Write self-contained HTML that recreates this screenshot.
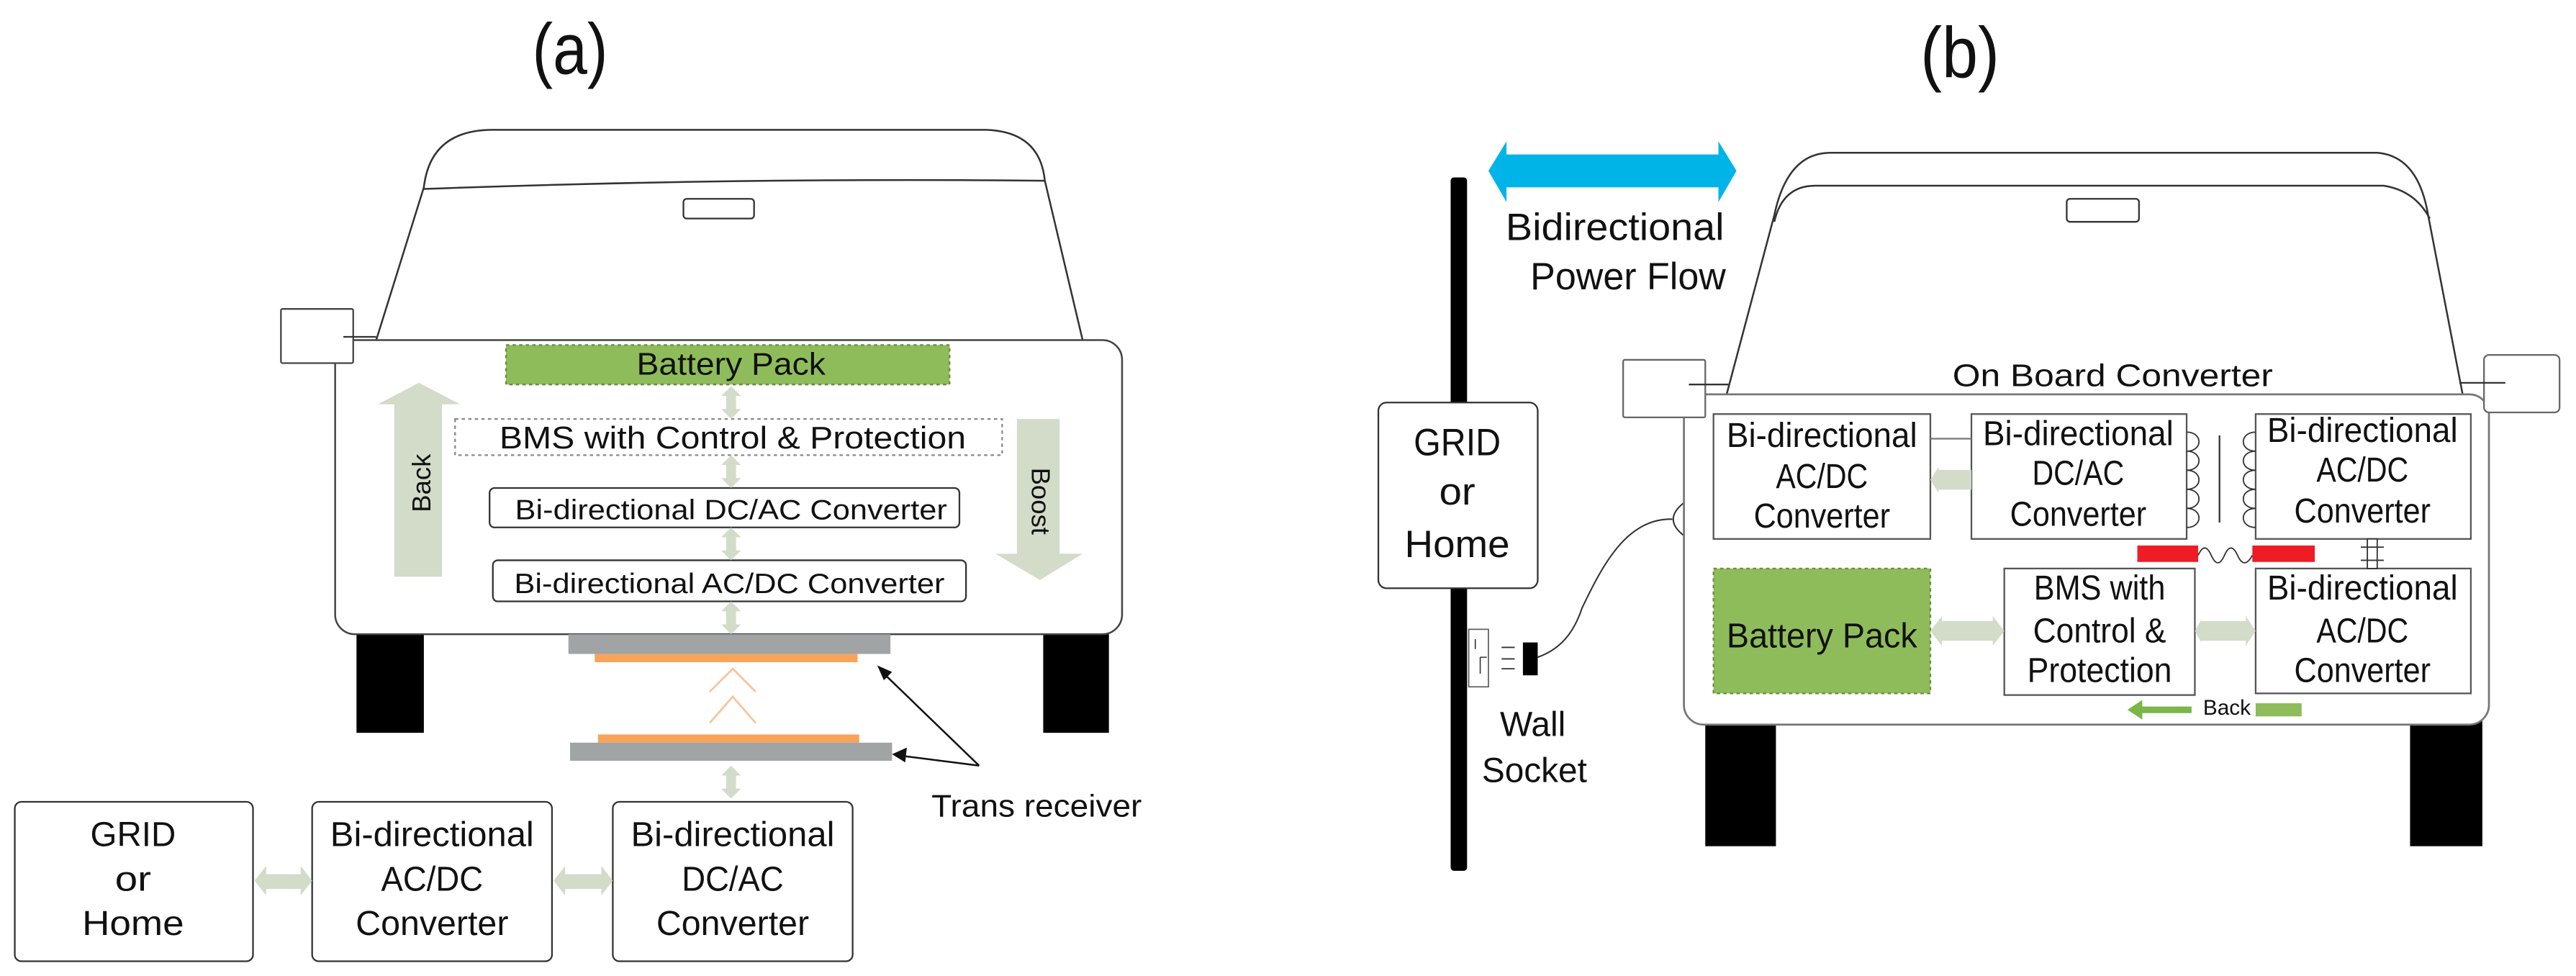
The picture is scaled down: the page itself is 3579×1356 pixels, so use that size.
<!DOCTYPE html>
<html><head><meta charset="utf-8"><style>
html,body{margin:0;padding:0;background:#fff}
svg{display:block}
text{font-family:"Liberation Sans",sans-serif;fill:#111}
</style></head><body>
<svg width="3579" height="1356" viewBox="0 0 1568 594" preserveAspectRatio="none" xmlns="http://www.w3.org/2000/svg">
<defs>
<g id="vda"><polygon points="0,-10 -6,-4 -3,-4 -3,4 -6,4 0,10 6,4 3,4 3,-4 6,-4" fill="#d3dbc9"/></g>
</defs>
<!-- (a) -->
<text x="347" y="45" font-size="44" text-anchor="middle" textLength="46" lengthAdjust="spacingAndGlyphs">(a)</text>
<path d="M229,207 L258,114 Q262,79 300,79 L600,79 Q633,80 636,110 L659,207" fill="none" stroke="#333" stroke-width="1.1"/>
<path d="M258,115 Q450,108 636,110" fill="none" stroke="#333" stroke-width="1.1"/>
<rect x="416" y="121" width="43" height="12" rx="2" fill="#fff" stroke="#333"/>
<rect x="217" y="384" width="41" height="62" fill="#000"/>
<rect x="635" y="384" width="40" height="62" fill="#000"/>
<rect x="204" y="207" width="479" height="179" rx="12" fill="#fff" stroke="#444" stroke-width="1.1"/>
<rect x="171" y="188" width="44" height="33" rx="1" fill="#fff" stroke="#444"/>
<line x1="209" y1="205" x2="229" y2="205" stroke="#333"/>
<rect x="308" y="210" width="270" height="24" fill="#8fbc5a" stroke="#6a8a40" stroke-dasharray="2,2"/>
<text x="445" y="228" font-size="19" text-anchor="middle" textLength="115" lengthAdjust="spacingAndGlyphs">Battery Pack</text>
<rect x="277" y="255" width="333" height="22" fill="#fff" stroke="#888" stroke-dasharray="2,2"/>
<text x="446" y="273" font-size="19" text-anchor="middle" textLength="284" lengthAdjust="spacingAndGlyphs">BMS with Control &amp; Protection</text>
<rect x="298" y="297" width="286" height="24" rx="3" fill="#fff" stroke="#333"/>
<text x="445" y="316" font-size="17" text-anchor="middle" textLength="263" lengthAdjust="spacingAndGlyphs">Bi-directional DC/AC  Converter</text>
<rect x="300" y="341" width="288" height="25" rx="3" fill="#fff" stroke="#333"/>
<text x="444" y="361" font-size="17" text-anchor="middle" textLength="262" lengthAdjust="spacingAndGlyphs">Bi-directional AC/DC  Converter</text>
<use href="#vda" x="445" y="245"/><use href="#vda" x="445" y="287"/><use href="#vda" x="445" y="331"/><use href="#vda" x="445" y="376"/>
<polygon points="255,233 280,246 269,246 269,351 240,351 240,246 230,246" fill="#d3dbc9"/>
<text transform="translate(262,294) rotate(-90)" font-size="16" text-anchor="middle">Back</text>
<polygon points="619,255 645,255 645,337 659,337 633,353 606,337 619,337" fill="#d3dbc9"/>
<text transform="translate(628,305) rotate(90)" font-size="16" text-anchor="middle">Boost</text>
<rect x="346" y="386" width="196" height="12" fill="#a0a4a4"/>
<rect x="362" y="398" width="160" height="5" fill="#f9a35a"/>
<polyline points="432,421 446,407 460,421" fill="none" stroke="#f9c39a" stroke-width="1.2"/>
<polyline points="432,440 446,424 460,440" fill="none" stroke="#f9c39a" stroke-width="1.2"/>
<rect x="364" y="447" width="159" height="5" fill="#f9a35a"/>
<rect x="347" y="452" width="196" height="11" fill="#a0a4a4"/>
<use href="#vda" x="445" y="476"/>
<line x1="596" y1="466" x2="537" y2="409" stroke="#111" stroke-width="1.1"/>
<polygon points="534,405 543,409 538,414" fill="#111"/>
<line x1="596" y1="466" x2="549" y2="460" stroke="#111" stroke-width="1.1"/>
<polygon points="543,459 552,455 551,464" fill="#111"/>
<text x="567" y="497" font-size="19" textLength="128" lengthAdjust="spacingAndGlyphs">Trans receiver</text>
<g font-size="21" text-anchor="middle">
<rect x="9" y="488" width="145" height="97" rx="4" fill="#fff" stroke="#333"/>
<text x="81" y="515" textLength="52" lengthAdjust="spacingAndGlyphs">GRID</text>
<text x="81" y="542" textLength="22" lengthAdjust="spacingAndGlyphs">or</text>
<text x="81" y="569" textLength="62" lengthAdjust="spacingAndGlyphs">Home</text>
<rect x="190" y="488" width="146" height="97" rx="4" fill="#fff" stroke="#333"/>
<text x="263" y="515" textLength="124" lengthAdjust="spacingAndGlyphs">Bi-directional</text>
<text x="263" y="542" textLength="62" lengthAdjust="spacingAndGlyphs">AC/DC</text>
<text x="263" y="569" textLength="93" lengthAdjust="spacingAndGlyphs">Converter</text>
<rect x="373" y="488" width="146" height="97" rx="4" fill="#fff" stroke="#333"/>
<text x="446" y="515" textLength="124" lengthAdjust="spacingAndGlyphs">Bi-directional</text>
<text x="446" y="542" textLength="62" lengthAdjust="spacingAndGlyphs">DC/AC</text>
<text x="446" y="569" textLength="93" lengthAdjust="spacingAndGlyphs">Converter</text>
</g>
<polygon points="155,536 162,527 162,532 183,532 183,527 190,536 183,545 183,541 162,541 162,545" fill="#d3dbc9"/>
<polygon points="337,536 344,527 344,532 366,532 366,527 373,536 366,545 366,541 344,541 344,545" fill="#d3dbc9"/>
<!-- (b) -->
<text x="1193" y="47" font-size="44" text-anchor="middle" textLength="48" lengthAdjust="spacingAndGlyphs">(b)</text>
<rect x="883" y="108" width="10" height="422" rx="2" fill="#000"/>
<polygon points="906,104 917,86 917,94 1046,94 1046,86 1057,104 1046,123 1046,114 917,114 917,123" fill="#00b4e8"/>
<text x="983" y="146" font-size="23" text-anchor="middle" textLength="133" lengthAdjust="spacingAndGlyphs">Bidirectional</text>
<text x="991" y="176" font-size="23" text-anchor="middle" textLength="119" lengthAdjust="spacingAndGlyphs">Power Flow</text>
<rect x="839" y="245" width="97" height="113" rx="5" fill="#fff" stroke="#333"/>
<g font-size="23" text-anchor="middle">
<text x="887" y="277" textLength="53" lengthAdjust="spacingAndGlyphs">GRID</text>
<text x="887" y="307" textLength="22" lengthAdjust="spacingAndGlyphs">or</text>
<text x="887" y="339" textLength="64" lengthAdjust="spacingAndGlyphs">Home</text>
</g>
<rect x="894" y="383" width="12" height="35" fill="#fff" stroke="#666" stroke-width="0.8"/>
<path d="M898,389 v6 M901,400 h4 M901,400 v10" stroke="#333" stroke-width="0.7" fill="none"/>
<rect x="927" y="391" width="9" height="20" fill="#000"/>
<line x1="914" y1="394" x2="922" y2="394" stroke="#333" stroke-width="0.8"/><line x1="914" y1="401" x2="922" y2="401" stroke="#333" stroke-width="0.8"/><line x1="914" y1="407" x2="922" y2="407" stroke="#333" stroke-width="0.8"/>
<path d="M936,400 C950,395 958,385 963,370 C975,345 990,315 1018,316" fill="none" stroke="#333" stroke-width="0.9"/>
<path d="M1025,306 Q1012,316 1025,326" fill="none" stroke="#333" stroke-width="0.9"/>
<text x="933" y="448" font-size="21" text-anchor="middle" textLength="40" lengthAdjust="spacingAndGlyphs">Wall</text>
<text x="934" y="476" font-size="21" text-anchor="middle" textLength="64" lengthAdjust="spacingAndGlyphs">Socket</text>
<path d="M1051,240 L1080,131 Q1088,93 1114,93 L1447,93 Q1472,95 1478,131 L1499,240" fill="none" stroke="#333" stroke-width="1.1"/>
<path d="M1080,135 Q1085,113 1105,113 L1451,113 Q1470,116 1479,133" fill="none" stroke="#333" stroke-width="1.1"/>
<rect x="1258" y="121" width="44" height="14" rx="2" fill="#fff" stroke="#333"/>
<rect x="1038" y="438" width="43" height="77" fill="#000"/>
<rect x="1467" y="438" width="44" height="77" fill="#000"/>
<rect x="1025" y="240" width="490" height="201" rx="12" fill="#fff" stroke="#777" stroke-width="1.2"/>
<rect x="988" y="219" width="50" height="35" rx="1" fill="#fff" stroke="#666"/>
<line x1="1028" y1="234" x2="1052" y2="234" stroke="#333"/>
<rect x="1512" y="216" width="46" height="35" rx="3" fill="#fff" stroke="#666"/>
<line x1="1497" y1="233" x2="1525" y2="233" stroke="#333"/>
<text x="1286" y="235" font-size="19" text-anchor="middle" textLength="195" lengthAdjust="spacingAndGlyphs">On  Board Converter</text>
<g font-size="21" text-anchor="middle">
<rect x="1043" y="252" width="132" height="76" fill="#fff" stroke="#555"/>
<text x="1109" y="272" textLength="116" lengthAdjust="spacingAndGlyphs">Bi-directional</text>
<text x="1109" y="297" textLength="56" lengthAdjust="spacingAndGlyphs">AC/DC</text>
<text x="1109" y="321" textLength="83" lengthAdjust="spacingAndGlyphs">Converter</text>
<rect x="1200" y="252" width="131" height="76" fill="#fff" stroke="#555"/>
<text x="1265" y="271" textLength="116" lengthAdjust="spacingAndGlyphs">Bi-directional</text>
<text x="1265" y="295" textLength="56" lengthAdjust="spacingAndGlyphs">DC/AC</text>
<text x="1265" y="320" textLength="83" lengthAdjust="spacingAndGlyphs">Converter</text>
<rect x="1373" y="252" width="131" height="76" fill="#fff" stroke="#555"/>
<text x="1438" y="269" textLength="116" lengthAdjust="spacingAndGlyphs">Bi-directional</text>
<text x="1438" y="293" textLength="56" lengthAdjust="spacingAndGlyphs">AC/DC</text>
<text x="1438" y="318" textLength="83" lengthAdjust="spacingAndGlyphs">Converter</text>
<rect x="1043" y="346" width="132" height="76" fill="#8fbc5a" stroke="#6a8a40" stroke-dasharray="2,2"/>
<text x="1109" y="394" textLength="116" lengthAdjust="spacingAndGlyphs">Battery Pack</text>
<rect x="1220" y="346" width="116" height="77" fill="#fff" stroke="#555"/>
<text x="1278" y="365" textLength="80" lengthAdjust="spacingAndGlyphs">BMS with</text>
<text x="1278" y="391" textLength="81" lengthAdjust="spacingAndGlyphs">Control &amp;</text>
<text x="1278" y="415" textLength="88" lengthAdjust="spacingAndGlyphs">Protection</text>
<rect x="1373" y="346" width="131" height="76" fill="#fff" stroke="#555"/>
<text x="1438" y="365" textLength="116" lengthAdjust="spacingAndGlyphs">Bi-directional</text>
<text x="1438" y="391" textLength="56" lengthAdjust="spacingAndGlyphs">AC/DC</text>
<text x="1438" y="415" textLength="83" lengthAdjust="spacingAndGlyphs">Converter</text>
</g>
<line x1="1175" y1="267" x2="1200" y2="267" stroke="#777"/>
<polygon points="1175,292 1180,284 1180,286 1200,286 1200,298 1180,298 1180,300" fill="#d3dbc9"/>
<polygon points="1175,384 1182,375 1182,378 1213,378 1213,375 1220,384 1213,393 1213,390 1182,390 1182,393" fill="#d3dbc9"/>
<polygon points="1336,384 1340,377 1340,378 1367,378 1367,375 1373,384 1367,393 1367,390 1340,390 1340,391" fill="#d3dbc9"/>
<path d="M1331,263 c10,0 10,11.6 0,11.6 c10,0 10,11.6 0,11.6 c10,0 10,11.6 0,11.6 c10,0 10,11.6 0,11.6 c10,0 10,11.6 0,11.6" fill="none" stroke="#333" stroke-width="0.8"/>
<line x1="1351" y1="265" x2="1351" y2="318" stroke="#333"/>
<path d="M1373,263 c-10,0 -10,11.6 0,11.6 c-10,0 -10,11.6 0,11.6 c-10,0 -10,11.6 0,11.6 c-10,0 -10,11.6 0,11.6 c-10,0 -10,11.6 0,11.6" fill="none" stroke="#333" stroke-width="0.8"/>
<rect x="1301" y="332" width="37" height="10" fill="#ee1c25"/>
<rect x="1371" y="332" width="38" height="10" fill="#ee1c25"/>
<path d="M1338,338 q4,-9 8,0 q4,9 8,0 q4,-9 8,0 q4,9 9,0" fill="none" stroke="#333" stroke-width="0.8"/>
<rect x="1441" y="328" width="6" height="18" fill="#fff" stroke="#333" stroke-width="0.8"/>
<line x1="1437" y1="333" x2="1451" y2="333" stroke="#333" stroke-width="0.8"/><line x1="1437" y1="341" x2="1451" y2="341" stroke="#333" stroke-width="0.8"/>
<polygon points="1295,432 1304,426 1304,430 1334,430 1334,434 1304,434 1304,438" fill="#7ab648"/>
<text x="1341" y="435" font-size="13" textLength="29" lengthAdjust="spacingAndGlyphs">Back</text>
<rect x="1373" y="428" width="28" height="8" fill="#8fbc5a"/>
</svg>
</body></html>
